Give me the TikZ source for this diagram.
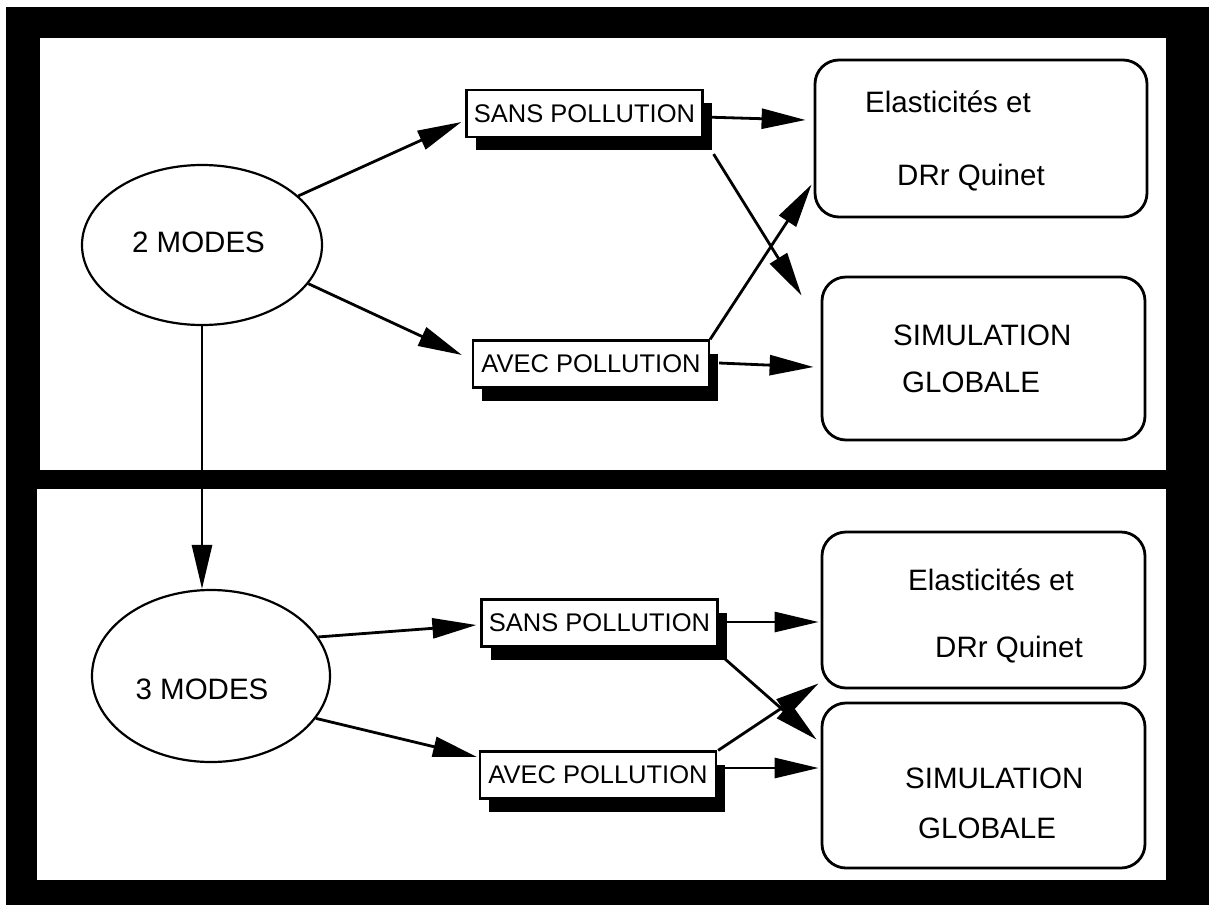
\documentclass[tikz,border=0pt]{standalone}
\usepackage{fontspec}
\setmainfont{Liberation Sans}
\usetikzlibrary{arrows.meta,shapes.geometric,shadows,calc}
\begin{document}
\begin{tikzpicture}[x=1pt,y=-1pt,
  conn/.style={line width=2.8pt,-{Triangle[length=44pt,width=20pt]}},
  plainbox/.style={draw,line width=2.2pt,fill=white,minimum width=236pt,
    minimum height=47pt,inner sep=0pt,font=\fontsize{25.5}{30}\selectfont,
    drop shadow={shadow xshift=9pt,shadow yshift=-13pt,opacity=1,fill=black}},
  modebox/.style={ellipse,draw,line width=2.2pt,inner sep=0pt},
  resultbox/.style={draw,line width=2.8pt,rounded corners=24pt,inner sep=0pt},
  boxtext/.style={anchor=base west,inner sep=0pt,font=\fontsize{29.5}{35}\selectfont},
  modetext/.style={anchor=base,inner sep=0pt,font=\fontsize{29.5}{35}\selectfont}]

% frame and the two panels
\useasboundingbox (0,0) rectangle (1209,905);
\fill[black] (6,7) rectangle (1209,905);
\fill[white] (40,38) rectangle (1166,470);
\fill[white] (37,489) rectangle (1166,880);

% upper panel: two modes
\node[modebox,minimum width=240pt,minimum height=160pt] (m2) at (202,245) {};
\node[modetext] (m2t) at (198.5,252) {2 MODES};
\node[plainbox] (s1) at (584.5,113.5) {SANS POLLUTION};
\node[plainbox] (a1) at (591,364) {AVEC POLLUTION};
\node[resultbox,minimum width=332pt,minimum height=157pt] (e1) at (981,138.5) {};
\node[boxtext] (e1a) at (865,112) {Elasticités et};
\node[boxtext] (e1b) at (897,185) {DRr Quinet};
\node[resultbox,minimum width=323pt,minimum height=163pt] (g1) at (983.5,358.5) {};
\node[boxtext] (g1a) at (893,345) {SIMULATION};
\node[boxtext] (g1b) at (902,392) {GLOBALE};

% lower panel: three modes
\node[modebox,minimum width=238pt,minimum height=172pt] (m3) at (211,676) {};
\node[modetext] (m3t) at (202,699) {3 MODES};
\node[plainbox] (s2) at (599.5,623) {SANS POLLUTION};
\node[plainbox] (a2) at (598,775) {AVEC POLLUTION};
\node[resultbox,minimum width=323pt,minimum height=156pt] (e2) at (983.5,610) {};
\node[boxtext] (e2a) at (908,590) {Elasticités et};
\node[boxtext] (e2b) at (935,657) {DRr Quinet};
\node[resultbox,minimum width=323pt,minimum height=165pt] (g2) at (983.5,785.5) {};
\node[boxtext] (g2a) at (905,788) {SIMULATION};
\node[boxtext] (g2b) at (918,838) {GLOBALE};

% connectors, upper panel
\draw[conn] (m2.27) -- ([shift={(-4,8.5)}]s1.west);
\draw[conn] (m2.-20) -- ([shift={(-10,-9)}]a1.west);
\draw[conn] ([shift={(0,3.5)}]s1.east) -- ([shift={(-8,-18.5)}]e1.west);
\draw[conn] ([shift={(10,16)}]s1.south east) -- ([shift={(-19,20)}]g1.north west);
\draw[conn] (a1.north east) -- ([shift={(-2,-34)}]e1.south west);
\draw[conn] ([shift={(9,-1)}]a1.east) -- ([shift={(-7,8.5)}]g1.west);

% from two modes down to three modes
\draw[conn] (m2.south) -- (m2.south |- m3.north);

% connectors, lower panel
\draw[conn] (m3.20) -- ([shift={(-4,2)}]s2.west);
\draw[conn] (m3.-22) -- ([shift={(-2,-18)}]a2.west);
\draw[conn] ([shift={(0,-1)}]s2.east) -- ([shift={(-2,12)}]e2.west);
\draw[conn] ([shift={(6,11)}]s2.south east) -- ([shift={(-4,38)}]g2.north west);
\draw[conn] ([shift={(1,0)}]a2.north east) -- ([shift={(-2,-6)}]e2.south west);
\draw[conn] ([shift={(0,-7)}]a2.east) -- ([shift={(-2,-17.5)}]g2.west);
\end{tikzpicture}
\end{document}
